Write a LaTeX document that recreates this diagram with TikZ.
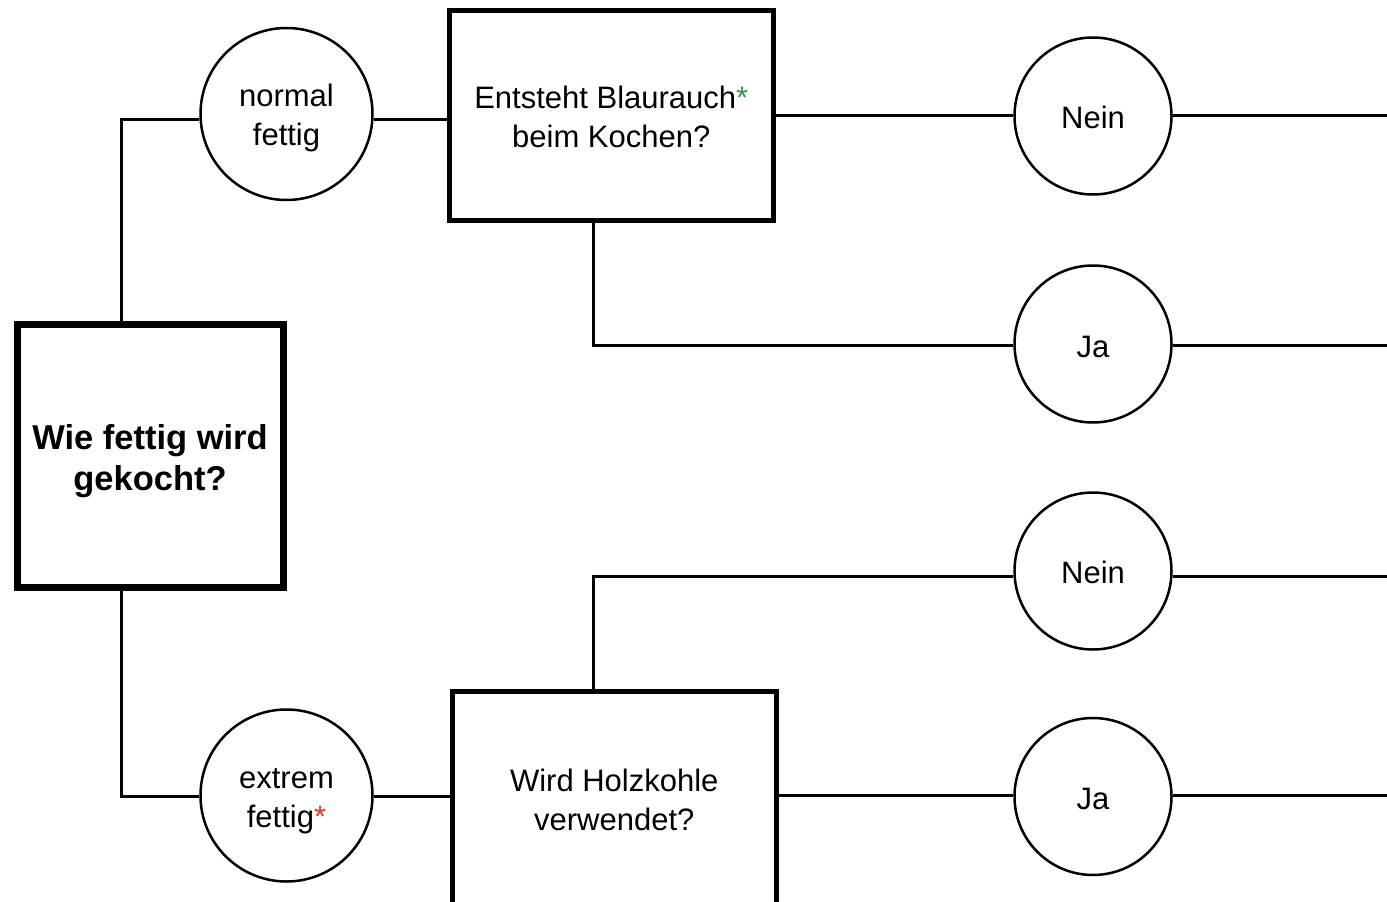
\documentclass[tikz,border=0pt]{standalone}
\usepackage{fontspec}
\setmainfont{Liberation Sans}
\definecolor{stargreen}{RGB}{46,150,70}
\definecolor{starred}{RGB}{228,52,52}
\newcommand\lowr[1]{\rule{0pt}{#1}}
\begin{document}
\begin{tikzpicture}[x=1pt,y=-1pt,
  txt/.style={align=center,inner sep=0pt,font=\fontsize{31}{39}\selectfont},
  mainbox/.style={draw,line width=7pt,minimum width=266pt,minimum height=263pt,align=center,inner sep=0pt,font=\fontsize{34.5}{41}\selectfont\bfseries},
  qbox/.style={txt,draw,line width=5pt,minimum width=324.5pt},
  ans/.style={txt,draw,circle,line width=2.5pt,fill=white},
  conn/.style={line width=2.6pt}]
\useasboundingbox (0,0) rectangle (1387,902);
% nodes
\node[mainbox] (main) at (150,455.5) {\lowr{36pt}Wie fettig wird\\gekocht?};
\node[qbox,minimum height=210pt] (b1) at (611.25,115) {\lowr{25.6pt}Entsteht Blaurauch\textcolor{stargreen}{*}\\beim Kochen?};
\node[qbox,minimum height=216pt] (b2) at (614.25,799.5) {Wird Holzkohle\\verwendet?};
\node[ans,minimum size=172pt] (normal) at (286.5,114) {\lowr{29.5pt}normal\\fettig};
\node[ans,minimum size=172pt] (extreme) at (286.5,795.5) {\lowr{32pt}extrem\\fettig\textcolor{starred}{*}};
\node[ans,minimum size=157pt] (n1) at (1093,116) {\lowr{26pt}Nein};
\node[ans,minimum size=157pt] (n2) at (1093,344) {\lowr{27pt}Ja};
\node[ans,minimum size=157pt] (n3) at (1093,571) {\lowr{26pt}Nein};
\node[ans,minimum size=157pt] (n4) at (1093,796.5) {\lowr{27pt}Ja};
% connector levels
\coordinate (vL) at (121.7,0);
\coordinate (vM) at (593.3,0);
\coordinate (yA) at (0,119.3);
\coordinate (yE) at (0,796.7);
\coordinate (e1) at (1387,115.7);
\coordinate (e2) at (1387,345.7);
\coordinate (e3) at (1387,576.7);
\coordinate (e4) at (1387,795.7);
% connectors
\draw[conn] (main.north -| vL) |- (normal.west |- yA);
\draw[conn] (normal.east |- yA) -- (b1.west |- yA);
\draw[conn] (main.south -| vL) |- (extreme.west |- yE);
\draw[conn] (extreme.east |- yE) -- (b2.west |- yE);
\draw[conn] (b1.east |- e1) -- (n1.west |- e1);
\draw[conn] (n1.east |- e1) -- (e1);
\draw[conn] (b1.south -| vM) |- (n2.west |- e2);
\draw[conn] (n2.east |- e2) -- (e2);
\draw[conn] (b2.north -| vM) |- (n3.west |- e3);
\draw[conn] (n3.east |- e3) -- (e3);
\draw[conn] (b2.east |- e4) -- (n4.west |- e4);
\draw[conn] (n4.east |- e4) -- (e4);
\end{tikzpicture}
\end{document}
